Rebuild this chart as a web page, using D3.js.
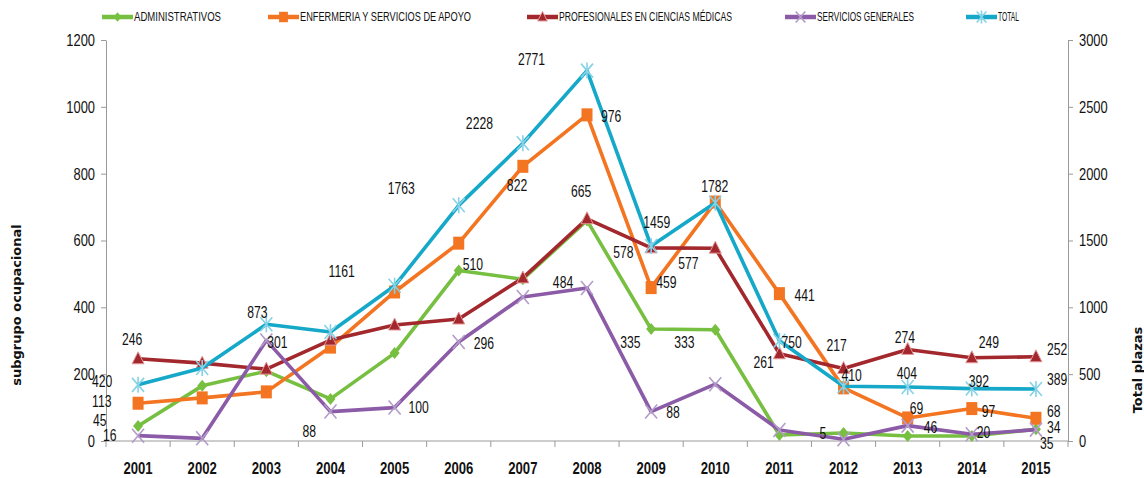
<!DOCTYPE html>
<html>
<head>
<meta charset="utf-8">
<script src="https://cdn.jsdelivr.net/npm/d3@7"></script>
<style>
  body { margin: 0; background: #fff; }
  svg text { font-family: "Liberation Sans", Arial, sans-serif; fill: #111; }
  .axis path, .axis line { stroke: #9a9a9a; }
</style>
</head>
<body>
<div id="chart"></div>
<script>
// Data.
const years = ["2001","2002","2003","2004","2005","2006","2007","2008","2009","2010","2011","2012","2013","2014","2015"];
const administrativos = [45, 165, 209, 126, 263, 510, 484, 660, 335, 333, 18, 24, 15, 15, 35];
const enfermeria      = [113, 129, 147, 281, 446, 592, 822, 976, 459, 715, 441, 159, 69, 97, 68];
const profesionales   = [246, 233, 215, 302, 347, 365, 488, 665, 578, 577, 261, 217, 274, 249, 252];
const servicios       = [16, 8, 301, 88, 100, 296, 431, 458, 88, 170, 33, 5, 46, 20, 34];
const total           = [420, 546, 873, 815, 1161, 1763, 2228, 2771, 1459, 1782, 750, 410, 404, 392, 389];

const leftTicks  = [0, 200, 400, 600, 800, 1000, 1200];
const rightTicks = [0, 500, 1000, 1500, 2000, 2500, 3000];

// Series setup
const series = [
  { key: "admin", name: "ADMINISTRATIVOS", values: administrativos, color: "#77bf40", marker: "diamond", axis: "left" },
  { key: "enf",   name: "ENFERMERIA Y SERVICIOS DE APOYO", values: enfermeria, color: "#f37421", marker: "square", axis: "left" },
  { key: "prof",  name: "PROFESIONALES EN CIENCIAS MÉDICAS", values: profesionales, color: "#a3282d", marker: "triangle", axis: "left" },
  { key: "serv",  name: "SERVICIOS GENERALES", values: servicios, color: "#8b5ba7", marker: "cross", axis: "left" },
  { key: "total", name: "TOTAL", values: total, color: "#15a8c8", marker: "star", axis: "right" }
];

// Where each visible data label sits relative to its point (left edge, middle).
const labelNudge = {
  total: {0:[-46,-3], 2:[-19,-12], 4:[-66,-14], 5:[-71,-17], 6:[-57,-20], 7:[-69,-11], 8:[-8,-24],
          9:[-14,-16], 10:[2,2], 11:[-2,-11], 12:[-11,-14], 13:[-3,-7], 14:[11,-10]},
  prof:  {0:[-16,-19], 7:[-16,-27], 8:[-38,5], 9:[-37,15], 10:[-26,9], 11:[-17,-23], 12:[-13,-12], 13:[7,-15], 14:[11,-7]},
  enf:   {0:[-46,-2], 6:[-16,19], 7:[14,2], 8:[5,-5], 10:[15,2], 12:[2,-10], 13:[10,3], 14:[11,-7]},
  admin: {0:[-45,-6], 5:[4,-6], 6:[30,3], 8:[-31,13], 9:[-41,13], 14:[4,14]},
  serv:  {0:[-35,0], 2:[1,2], 3:[-28,20], 4:[14,0], 5:[15,1], 8:[15,1], 11:[-24,-6], 12:[16,2], 13:[5,-2], 14:[11,-2]}
};

// Legend placement: start of the marker line and text width.
const legendItems = [
  { key: "admin", x: 102, w: 87 },
  { key: "enf",   x: 268, w: 171 },
  { key: "prof",  x: 527, w: 173 },
  { key: "serv",  x: 785, w: 97 },
  { key: "total", x: 966, w: 21 }
];

const W = 1144, H = 478;
const plot = { left: 106, right: 1068, top: 40, bottom: 441 };
const narrow = 0.76;   // horizontal squeeze of the chart's text

const svg = d3.select("#chart").append("svg")
  .attr("width", W).attr("height", H);

const x = d3.scaleBand().domain(years).range([plot.left, plot.right]);
const yL = d3.scaleLinear().domain([0, 1200]).range([plot.bottom, plot.top]);
const yR = d3.scaleLinear().domain([0, 3000]).range([plot.bottom, plot.top]);
const cx = d => x(d) + x.bandwidth() / 2;

// squeezed text at a point
function squeezed(g, px, py, txt, size, anchor, sx) {
  return g.append("text")
    .attr("transform", "translate(" + px + "," + py + ") scale(" + (sx || narrow) + ",1)")
    .attr("text-anchor", anchor || "start")
    .attr("dominant-baseline", "central")
    .style("font-size", size + "px")
    .text(txt);
}

// Left axis
const leftAxis = svg.append("g")
  .attr("class", "axis")
  .attr("transform", "translate(" + plot.left + ",0)")
  .call(d3.axisLeft(yL).tickValues(leftTicks).tickFormat(d3.format("d")).tickSize(5).tickPadding(6).tickSizeOuter(0));
leftAxis.selectAll(".tick text")
  .attr("x", -11 / 0.76)
  .attr("transform", "scale(0.76,1)")
  .style("font-size", "17px").attr("fill", "#111");

// Right axis
const rightAxis = svg.append("g")
  .attr("class", "axis")
  .attr("transform", "translate(" + plot.right + ",0)")
  .call(d3.axisRight(yR).tickValues(rightTicks).tickFormat(d3.format("d")).tickSize(5).tickPadding(6).tickSizeOuter(0));
rightAxis.selectAll(".tick text")
  .attr("x", 11 / 0.76)
  .attr("transform", "scale(0.76,1)")
  .style("font-size", "17px").attr("fill", "#111");

// Category axis: ticks between bands
const xAxis = svg.append("g").attr("class", "axis");
xAxis.append("line")
  .attr("x1", plot.left).attr("x2", plot.right)
  .attr("y1", plot.bottom).attr("y2", plot.bottom);
xAxis.selectAll("line.tick")
  .data(years.concat(["end"]))
  .join("line")
  .attr("class", "tick")
  .attr("x1", (d, i) => plot.left + i * x.step())
  .attr("x2", (d, i) => plot.left + i * x.step())
  .attr("y1", plot.bottom).attr("y2", plot.bottom + 6);
years.forEach(d => {
  squeezed(xAxis, cx(d), plot.bottom + 28, d, 16, "middle", 0.82)
    .style("font-weight", "bold");
});

// Axis titles
svg.append("text")
  .attr("transform", "translate(16," + (plot.top + 265) + ") rotate(-90)")
  .attr("text-anchor", "middle")
  .attr("dominant-baseline", "central")
  .style("font-family", "DejaVu Sans")
  .style("font-weight", "bold")
  .style("font-size", "13px")
  .text("subgrupo ocupacional");

svg.append("text")
  .attr("transform", "translate(1137," + (plot.top + 330) + ") rotate(-90)")
  .attr("text-anchor", "middle")
  .attr("dominant-baseline", "central")
  .style("font-family", "DejaVu Sans")
  .style("font-weight", "bold")
  .style("font-size", "13px")
  .text("Total plazas");

// Marker drawing
function drawMarker(g, type, color, px, py, s) {
  s = s || 1;
  if (type === "diamond") {
    g.append("path")
      .attr("d", `M${px},${py - 6*s}L${px + 5*s},${py}L${px},${py + 6*s}L${px - 5*s},${py}Z`)
      .attr("fill", color);
  } else if (type === "square") {
    g.append("rect")
      .attr("x", px - 5.5*s).attr("y", py - 6.5*s)
      .attr("width", 11*s).attr("height", 13*s)
      .attr("fill", color);
  } else if (type === "triangle") {
    g.append("path")
      .attr("d", `M${px},${py - 7*s}L${px + 6*s},${py + 5*s}L${px - 6*s},${py + 5*s}Z`)
      .attr("fill", color)
      .attr("stroke", "#e49a9c").attr("stroke-width", 1);
  } else if (type === "cross") {
    g.append("path")
      .attr("d", `M${px - 6*s},${py - 7*s}L${px + 6*s},${py + 7*s}M${px + 6*s},${py - 7*s}L${px - 6*s},${py + 7*s}`)
      .attr("stroke", "#b49cc9").attr("stroke-width", 1.6).attr("fill", "none");
  } else if (type === "star") {
    g.append("path")
      .attr("d", `M${px - 6*s},${py - 7*s}L${px + 6*s},${py + 7*s}M${px + 6*s},${py - 7*s}L${px - 6*s},${py + 7*s}M${px},${py - 8*s}L${px},${py + 8*s}`)
      .attr("stroke", "#86d2e6").attr("stroke-width", 1.6).attr("fill", "none");
  }
}

// Lines and markers
const linesG = svg.append("g");
series.forEach(s => {
  const yS = s.axis === "left" ? yL : yR;
  const line = d3.line()
    .x((d, i) => cx(years[i]))
    .y(d => yS(d));
  const g = linesG.append("g");
  g.append("path")
    .datum(s.values)
    .attr("d", line)
    .attr("fill", "none")
    .attr("stroke", s.color)
    .attr("stroke-width", 3.6)
    .attr("stroke-linejoin", "round");
  s.values.forEach((v, i) => drawMarker(g, s.marker, s.color, cx(years[i]), yS(v)));
});

// Data labels
const labelsG = svg.append("g");
series.forEach(s => {
  const yS = s.axis === "left" ? yL : yR;
  const nudge = labelNudge[s.key];
  s.values.forEach((v, i) => {
    if (!nudge[i]) return;
    squeezed(labelsG, cx(years[i]) + nudge[i][0], yS(v) + nudge[i][1], v, 16);
  });
});

// Legend
const legend = svg.append("g");
legendItems.forEach(item => {
  const s = series.find(d => d.key === item.key);
  const g = legend.append("g");
  g.append("line")
    .attr("x1", item.x).attr("x2", item.x + 31)
    .attr("y1", 17).attr("y2", 17)
    .attr("stroke", s.color).attr("stroke-width", 4.5);
  drawMarker(g, s.marker, s.color, item.x + 15.5, 17, 0.8);
  g.append("text")
    .attr("x", item.x + 32)
    .attr("y", 17)
    .attr("dominant-baseline", "central")
    .attr("textLength", item.w)
    .attr("lengthAdjust", "spacingAndGlyphs")
    .style("font-size", "12px")
    .text(s.name);
});
</script>
</body>
</html>
